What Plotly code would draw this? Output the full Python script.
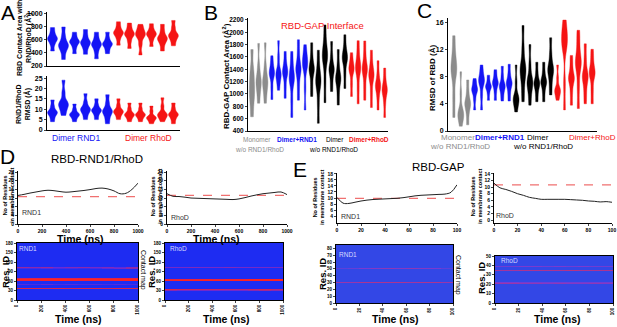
import numpy as np
import plotly.graph_objects as go

W, H = 617, 327
FONT = "Liberation Sans, Arial, sans-serif"
BLUE, RED, GRAY, BLACK = "#1414f5", "#f51414", "#8c8c8c", "#000000"

# ---------------- DATA ----------------
# Panel A: RBD contact area with RND1/RhoD (Å^2), per-replica samples
A_AREA_RND1 = [[430, 530, 595, 620, 645, 710, 790], [300, 420, 495, 520, 550, 660, 800],
               [390, 480, 550, 570, 590, 650, 720], [380, 470, 535, 560, 590, 670, 760],
               [310, 420, 505, 530, 555, 630, 720], [390, 460, 520, 540, 560, 630, 720]]
A_AREA_RHOD = [[520, 620, 690, 710, 730, 800, 880], [470, 580, 670, 690, 710, 780, 860],
               [370, 530, 655, 680, 705, 770, 840], [500, 600, 670, 690, 710, 770, 850],
               [430, 530, 600, 625, 650, 740, 840], [510, 590, 650, 670, 695, 790, 900]]
# Panel A: RND1/RhoD RMSD (Å)
A_RMSD_RND1 = [[4, 6.2, 8.0, 8.5, 9.0, 11.5, 14.5], [7, 9.5, 12.0, 12.5, 13.2, 18, 24],
               [4, 5.8, 7.0, 7.5, 8.0, 10, 12.5], [5, 7.5, 9.4, 10, 10.6, 13.5, 17.5],
               [5, 7.2, 9.0, 9.5, 10.0, 12.2, 15], [3, 5.8, 8.3, 9, 9.7, 13, 17]]
A_RMSD_RHOD = [[5, 7, 8.5, 9, 9.5, 12, 15], [4, 5.8, 7.0, 7.5, 8.0, 10.3, 13],
               [4, 5.8, 7.0, 7.5, 8.0, 10.3, 13], [3, 4.5, 5.6, 6, 6.4, 9, 11.5],
               [4, 5.8, 7.0, 7.5, 8.1, 11.5, 15.5], [3, 5.2, 7.0, 7.5, 8.0, 10.3, 13]]

# Panel B: RBD-GAP contact area (Å^2)
B_MONO = [[630, 850, 1000, 1100, 1250, 1400, 1720], [850, 1020, 1150, 1200, 1260, 1450, 1820],
          [850, 1020, 1150, 1200, 1260, 1450, 1830]]
B_RND1 = [[910, 1100, 1290, 1330, 1370, 1480, 1620], [1060, 1200, 1300, 1330, 1370, 1600, 1865],
          [930, 1120, 1310, 1350, 1390, 1520, 1690], [620, 900, 1200, 1250, 1300, 1480, 1690],
          [900, 1130, 1360, 1400, 1440, 1650, 1880], [740, 1100, 1440, 1480, 1520, 1650, 1800]]
B_DIMER = [[960, 1150, 1360, 1400, 1440, 1620, 1830], [525, 850, 1150, 1200, 1250, 1450, 1710],
           [860, 1200, 1550, 1600, 1660, 1850, 2120], [1040, 1200, 1360, 1400, 1440, 1620, 1850],
           [820, 1020, 1210, 1250, 1290, 1480, 1720], [1090, 1320, 1540, 1580, 1620, 1760, 1960]]
B_RHOD = [[960, 1160, 1360, 1400, 1440, 1540, 1670], [840, 1100, 1380, 1420, 1460, 1650, 1865],
          [900, 1120, 1360, 1400, 1440, 1640, 1860], [780, 1020, 1260, 1300, 1340, 1500, 1710],
          [740, 940, 1100, 1130, 1170, 1330, 1540], [620, 850, 1030, 1060, 1090, 1240, 1420]]

# Panel C: RMSD of RBD (Å)
C_MONO = [[2, 5, 8.3, 9, 9.7, 11.5, 14], [0.7, 1.8, 2.3, 2.6, 3.0, 5.5, 8.7],
          [0.9, 2.5, 3.7, 4.0, 4.4, 5.8, 7.5]]
C_RND1 = [[3.1, 4.6, 5.7, 6.0, 6.3, 7.0, 7.7], [3.1, 5.2, 7.0, 7.3, 7.6, 8.6, 9.7],
          [4.5, 5.5, 6.3, 6.5, 6.7, 7.4, 8.2], [4.5, 5.7, 6.7, 7.0, 7.3, 8.1, 9.0],
          [4.4, 5.4, 6.3, 6.6, 6.9, 8.1, 9.5], [4.4, 5.6, 6.7, 7.0, 7.3, 8.4, 9.8]]
C_DIMER = [[2.8, 3.8, 4.5, 4.8, 5.1, 7.2, 9.7], [4.3, 6.5, 8.5, 9.0, 9.5, 12.2, 15.5],
           [3.8, 5.5, 6.9, 7.2, 7.5, 9.8, 12.7], [4.3, 5.6, 6.7, 7.0, 7.3, 8.6, 10.1],
           [4.3, 5.7, 6.9, 7.2, 7.5, 8.7, 10.1], [5.3, 7.0, 8.6, 9.0, 9.4, 11.3, 13.7]]
C_RHOD = [[4.5, 5.2, 5.8, 6.0, 6.3, 7.8, 9.7], [3.1, 7.0, 12.3, 13.0, 13.6, 14.9, 16.3],
          [3.8, 5.7, 7.4, 7.7, 8.1, 9.6, 11.1], [3.3, 6.5, 9.5, 10.0, 10.5, 12.8, 14.8],
          [4.0, 5.8, 7.6, 8.0, 8.4, 10.5, 12.8], [4.0, 6.0, 8.1, 8.5, 8.9, 10.4, 12.0]]

# Panel D: residues in membrane contact vs time (ns)
T_D = [0, 50, 100, 150, 200, 250, 300, 350, 400, 450, 500, 550, 600, 650, 700, 750, 800, 850, 900, 950, 1000]
D_RND1 = [13.2, 13.7, 14.3, 14.8, 15.3, 15.6, 15.4, 15.0, 14.7, 14.9, 15.2, 15.5, 15.9, 16.4, 16.6, 16.2, 15.3, 14.0, 14.2, 16.0, 18.9]
D_RHOD = [14.0, 12.8, 12.7, 12.4, 12.0, 11.9, 11.8, 11.7, 11.6, 11.5, 11.4, 11.3, 11.6, 12.2, 12.9, 13.5, 14.0, 14.3, 14.6, 14.8, 13.6]
D_RND1_REF = 12.7
D_RHOD_REF = 13.2

# Panel E: residues in membrane contact vs time (ns)
T_E = [0, 5, 10, 15, 20, 25, 30, 35, 40, 45, 50, 55, 60, 65, 70, 75, 80, 85, 90, 95, 100]
E_RND1 = [10.2, 8.3, 8.2, 8.6, 9.0, 9.3, 9.5, 9.6, 9.7, 9.8, 9.9, 10.1, 10.4, 10.7, 10.9, 11.0, 11.1, 11.2, 11.3, 11.9, 14.4]
E_RHOD = [11.2, 9.8, 9.3, 8.7, 8.0, 7.5, 6.9, 6.6, 6.3, 6.3, 6.3, 6.3, 6.3, 6.2, 6.1, 6.0, 5.8, 5.7, 5.5, 5.6, 5.4]
E_RND1_REF = 9.9
E_RHOD_REF = 10.7

# Contact maps: residue id -> contact occupancy per time bin
TBIN_D = [50, 150, 250, 350, 450, 550, 650, 750, 850, 950]
TBIN_E = [5, 15, 25, 35, 45, 55, 65, 75, 85, 95]
MAP_D_RND1 = {102: [0.55, 0.5, 0.55, 0.35, 0.45, 0.5, 0.4, 0.45, 0.3, 0.5],
              99: [0.2, 0.2, 0.25, 0.2, 0.2, 0.15, 0.2, 0.3, 0.4, 0.5],
              69: [0.8, 0.85, 0.9, 0.9, 0.85, 0.9, 0.9, 0.85, 0.9, 0.9],
              66: [1, 1, 1, 1, 1, 1, 1, 1, 1, 1],
              63: [0.9, 0.9, 0.95, 1, 0.95, 0.9, 0.9, 0.9, 0.95, 1],
              57: [0.35, 0.4, 0.3, 0.35, 0.3, 0.35, 0.3, 0.35, 0.3, 0.3],
              48: [0.25, 0.2, 0.3, 0.2, 0.25, 0.2, 0.25, 0.2, 0.25, 0.2],
              36: [0.85, 0.85, 0.8, 0.85, 0.8, 0.85, 0.85, 0.8, 0.85, 0.85]}
MAP_D_RHOD = {102: [0.4, 0.4, 0.45, 0.4, 0.4, 0.45, 0.4, 0.4, 0.4, 0.4],
              66: [0.9, 0.9, 0.9, 0.95, 0.9, 0.95, 0.95, 1, 1, 1],
              63: [0.95, 1, 1, 1, 1, 1, 1, 1, 1, 1],
              57: [0.4, 0.35, 0.4, 0.4, 0.35, 0.4, 0.4, 0.35, 0.4, 0.4],
              33: [0.85, 0.8, 0.8, 0.75, 0.75, 0.7, 0.7, 0.75, 0.8, 0.7],
              30: [0.5, 0.4, 0.4, 0.4, 0.4, 0.4, 0.4, 0.5, 0.6, 0.5]}
MAP_E_RND1 = {51: [0.2, 0.25, 0.35, 0.4, 0.45, 0.4, 0.45, 0.4, 0.35, 0.2],
              47: [0.2, 0.3, 0.35, 0.3, 0.3, 0.35, 0.3, 0.3, 0.3, 0.2],
              40: [0.4, 0.45, 0.5, 0.5, 0.5, 0.5, 0.5, 0.45, 0.5, 0.4],
              31: [0.6, 0.55, 0.7, 0.7, 0.65, 0.7, 0.7, 0.65, 0.7, 0.6],
              30: [0.5, 0.5, 0.6, 0.6, 0.6, 0.6, 0.55, 0.6, 0.6, 0.5]}
MAP_E_RHOD = {39: [0.3, 0.3, 0.35, 0.35, 0.3, 0.35, 0.3, 0.35, 0.3, 0.3],
              35: [0.55, 0.55, 0.6, 0.6, 0.6, 0.6, 0.65, 0.6, 0.6, 0.6],
              22: [0.35, 0.35, 0.3, 0.3, 0.3, 0.3, 0.3, 0.3, 0.3, 0.3],
              21: [0.5, 0.5, 0.45, 0.45, 0.4, 0.45, 0.4, 0.4, 0.45, 0.4]}

# ---------------- LAYOUT HELPERS ----------------
fig = go.Figure()
layout_axes = {}


def axis_pair(idx, box, xr, yr, xtick=None, ytick=None, tickfs=6, xlabels=True, mirror=False, xangle=0):
    x0, x1, ytop, ybot = box
    s = "" if idx == 1 else str(idx)
    common = dict(showline=True, linecolor="black", linewidth=1, ticks="outside", ticklen=2,
                  tickwidth=0.8, showgrid=False, zeroline=False, mirror=mirror, automargin=False,
                  tickfont=dict(size=tickfs, family=FONT, color="black", weight="bold"))
    xa = dict(common, domain=[x0 / W, x1 / W], anchor="y" + s, range=xr)
    ya = dict(common, domain=[1 - ybot / H, 1 - ytop / H], anchor="x" + s, range=yr)
    if xtick:
        xa.update(tickvals=xtick, tickangle=xangle)
    if not xlabels:
        xa.update(showticklabels=False, ticks="")
    if ytick:
        ya.update(tickvals=ytick)
    layout_axes["xaxis" + s] = xa
    layout_axes["yaxis" + s] = ya
    return "x" + s, "y" + s


def add_violins(groups, xa, ya, width):
    pos = 0
    for samples_list, color in groups:
        for samples in samples_list:
            bw = (max(samples) - min(samples)) / 9.0
            fig.add_trace(go.Violin(x=[pos] * len(samples), y=samples, xaxis=xa, yaxis=ya,
                                    width=width, fillcolor=color, line=dict(color=color, width=0.4),
                                    points=False, spanmode="hard", bandwidth=bw, scalemode="width",
                                    showlegend=False, hoverinfo="skip", opacity=1))
            pos += 1


# Panel A
xa, ya = axis_pair(1, (47, 180, 12, 66), [-0.5, 11.6], [200, 1030], ytick=[200, 400, 600, 800, 1000],
                   tickfs=7, xlabels=False)
add_violins([(A_AREA_RND1, BLUE), (A_AREA_RHOD, RED)], xa, ya, 0.9)
xa, ya = axis_pair(2, (47, 180, 76, 130), [-0.5, 11.6], [0, 26], ytick=[0, 5, 10, 15, 20, 25],
                   tickfs=7, xlabels=False)
add_violins([(A_RMSD_RND1, BLUE), (A_RMSD_RHOD, RED)], xa, ya, 0.9)

# Panel B
xa, ya = axis_pair(3, (248, 388, 18, 131), [-0.6, 20.5], [400, 2232],
                   ytick=list(range(400, 2201, 200)), tickfs=6.5, xlabels=False)
add_violins([(B_MONO, GRAY), (B_RND1, BLUE), (B_DIMER, BLACK), (B_RHOD, RED)], xa, ya, 0.8)

# Panel C
xa, ya = axis_pair(4, (448, 597, 18, 131), [-0.85, 20.7], [0, 16.6], ytick=[0, 4, 8, 12, 16],
                   tickfs=7, xlabels=False)
add_violins([(C_MONO, GRAY), (C_RND1, BLUE), (C_DIMER, BLACK), (C_RHOD, RED)], xa, ya, 0.85)


def line_panel(idx, box, t, vals, ref, xr, yr, xt, yt):
    xa, ya = axis_pair(idx, box, xr, yr, xtick=xt, ytick=yt, tickfs=5)
    fig.add_trace(go.Scatter(x=[t[0], t[-1]], y=[ref, ref], mode="lines", xaxis=xa, yaxis=ya,
                             line=dict(color="#f07070", width=1.2, dash="dash"),
                             showlegend=False, hoverinfo="skip"))
    fig.add_trace(go.Scatter(x=t, y=vals, mode="lines", xaxis=xa, yaxis=ya,
                             line=dict(color="#222222", width=1, shape="spline"),
                             showlegend=False, hoverinfo="skip"))


line_panel(5, (18, 138, 171, 224), T_D, D_RND1, D_RND1_REF, [0, 1000], [0, 24.5],
           [0, 200, 400, 600, 800, 1000], [0, 4, 8, 12, 16, 20, 24])
line_panel(6, (167, 287, 171, 224), T_D, D_RHOD, D_RHOD_REF, [0, 1000], [0, 24.5],
           [0, 200, 400, 600, 800, 1000], [0, 4, 8, 12, 16, 20, 24])
line_panel(7, (337, 457, 173, 223), T_E, E_RND1, E_RND1_REF, [0, 100], [1.7, 18.3],
           [0, 20, 40, 60, 80, 100], [4, 6, 8, 10, 12, 14, 16, 18])
line_panel(8, (494, 612, 173, 223), T_E, E_RHOD, E_RHOD_REF, [0, 100], [-0.9, 14.3],
           [0, 20, 40, 60, 80, 100], [0, 2, 4, 6, 8, 10, 12, 14])


def heat_panel(idx, box, tbins, res_max, res_step, cmap, xr, xt, yt, colorscale):
    xa, ya = axis_pair(idx, box, xr, [0, res_max], xtick=xt, ytick=yt, tickfs=5, mirror=True, xangle=-90)
    layout_axes[("yaxis" + str(idx))]["tickfont"]["size"] = 4.5
    res = np.arange(0, res_max + 1, res_step)
    z = np.zeros((len(res), len(tbins)))
    for r, occ in cmap.items():
        z[r // res_step, :] = occ
    fig.add_trace(go.Heatmap(x=tbins, y=res, z=z, zmin=0, zmax=1, colorscale=colorscale,
                             showscale=False, xaxis=xa, yaxis=ya, hoverinfo="skip"))


CS_D = [[0, "#1e2cf2"], [0.35, "#6a2ad6"], [1, "#ff2222"]]
CS_E = [[0, "#3347e6"], [0.35, "#7a3ad0"], [1, "#ff2a2a"]]
heat_panel(9, (17, 138, 243, 300), TBIN_D, 180, 3, MAP_D_RND1, [0, 1000], [0, 200, 400, 600, 800, 1000],
           [0, 30, 60, 90, 120, 150, 180], CS_D)
heat_panel(10, (165, 283, 243, 300), TBIN_D, 180, 3, MAP_D_RHOD, [0, 1000], [0, 200, 400, 600, 800, 1000],
           [0, 30, 60, 90, 120, 150, 180], CS_D)
heat_panel(11, (336, 453, 245, 303), TBIN_E, 85, 1, MAP_E_RND1, [0, 100], [0, 20, 40, 60, 80, 100],
           list(range(0, 81, 10)), CS_E)
heat_panel(12, (495, 613, 256, 303), TBIN_E, 50, 1, MAP_E_RHOD, [0, 100], [0, 20, 40, 60, 80, 100],
           list(range(0, 51, 10)), CS_E)

# ---------------- TEXT ----------------
anns = []


def ann(text, x, y, size, color="black", angle=0, bold=False):
    anns.append(dict(text=text, x=x / W, y=1 - y / H, xref="paper", yref="paper", showarrow=False,
                     xanchor="center", yanchor="middle", textangle=angle,
                     font=dict(size=size, color=color, family=FONT, weight="bold" if bold else "normal")))


for letter, x, y in [("A", 8, 12), ("B", 211, 12), ("C", 424, 11), ("D", 7, 157), ("E", 300, 170)]:
    ann(letter, x, y, 21)

ann("Dimer RND1", 76, 138, 8.5, BLUE)
ann("Dimer RhoD", 148, 138, 8.5, RED)
ann("RBD Contact Area with<br>RND/RhoD (Å<sup>2</sup>)", 24, 38, 7, angle=-90, bold=True)
ann("RND1/RhoD<br>RMSD (Å)", 24, 104, 7, angle=-90, bold=True)

ann("RBD-GAP Interface", 322, 25, 9.5, RED)
ann("RBD-GAP Contact Area (Å<sup>2</sup>)", 226, 76, 8, angle=-90, bold=True)
ann("Monomer", 257, 139, 6.5, GRAY)
ann("w/o RND1/RhoD", 259, 149, 6.5, GRAY)
ann("Dimer+RND1", 297, 139, 6.5, BLUE, bold=True)
ann("Dimer", 335, 139, 6.5, BLACK)
ann("w/o RND1/RhoD", 333, 149, 6.5, BLACK)
ann("Dimer+RhoD", 369, 139, 6.5, RED, bold=True)

ann("RMSD of RBD (Å)", 432, 78, 8, angle=-90, bold=True)
ann("Monomer", 458, 137, 8, GRAY)
ann("w/o RND1/RhoD", 460, 146, 8, GRAY)
ann("Dimer+RND1", 500, 137, 8, BLUE, bold=True)
ann("Dimer", 538, 137, 8, BLACK)
ann("w/o RND1/RhoD", 543, 146, 8, BLACK)
ann("Dimer+RhoD", 592, 137, 8, RED)

ann("RBD-RND1/RhoD", 97, 159, 11.5)
ann("RBD-GAP", 438, 167, 11.5)

for x, y in [(8, 196), (156, 196), (318, 197), (476, 197)]:
    ann("No of Residues<br>in membrane contact", x, y, 5.5, angle=-90, bold=True)
for x, y in [(5, 272), (151, 272), (322, 274), (481, 278)]:
    ann("Res. ID", x, y, 9.5, angle=-90, bold=True)
for x, y in [(80, 239), (216, 239), (78, 319), (226, 319), (395, 319), (557, 319)]:
    ann("Time (ns)", x, y, 10.5, bold=True)
ann("Contact map", 143, 270, 7, angle=90)
ann("Contact map", 458, 275, 7, angle=90)

ann("RND1", 31, 212, 7, "#333333")
ann("RhoD", 180, 217, 7, "#333333")
ann("RND1", 350, 216, 7, "#333333")
ann("RhoD", 505, 215, 7, "#333333")
ann("RND1", 28, 248, 6.5, "#d8d8ff")
ann("RhoD", 178, 248, 6.5, "#d8d8ff")
ann("RND1", 348, 254, 6.5, "#d8d8ff")
ann("RhoD", 509, 260, 6.5, "#d8d8ff")

fig.update_layout(width=W, height=H, margin=dict(l=0, r=0, t=0, b=0), paper_bgcolor="white",
                  plot_bgcolor="white", violinmode="overlay", annotations=anns, template="none",
                  font=dict(family=FONT), **layout_axes)

fig.write_html("out.html", config={"displayModeBar": False},
               post_script="document.body.style.margin='0px';")
